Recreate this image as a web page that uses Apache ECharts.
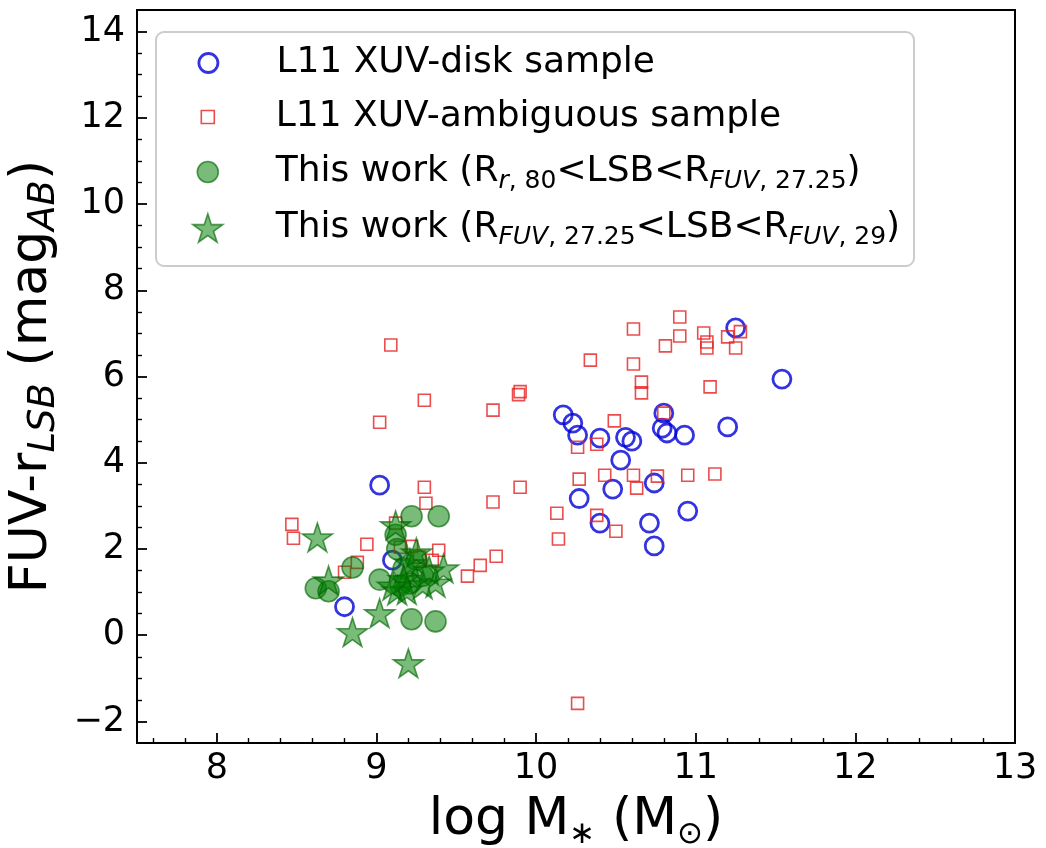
<!DOCTYPE html>
<html><head><meta charset="utf-8">
<script src="https://cdn.jsdelivr.net/npm/echarts@6/dist/echarts.min.js"></script>
<style>html,body{margin:0;padding:0;background:#fff}#c{width:1046px;height:848px}</style>
</head><body><div id="c"></div>
<script>
// ---- data (log M*, FUV - r_LSB) ----
const xuvDisk = [
  [11.25, 7.13], [11.54, 5.94], [10.17, 5.11], [10.23, 4.92], [10.26, 4.64], [10.40, 4.57],
  [10.56, 4.59], [10.60, 4.50], [10.53, 4.06], [10.80, 5.15], [10.79, 4.80], [10.82, 4.69],
  [10.93, 4.64], [11.20, 4.83], [10.48, 3.39], [10.27, 3.17], [10.74, 3.53], [10.95, 2.88],
  [10.40, 2.60], [10.71, 2.60], [10.74, 2.07], [9.02, 3.48], [9.10, 1.74], [8.80, 0.66]
];
const xuvAmbiguous = [
  [9.09, 6.73], [9.02, 4.94], [9.30, 5.45], [9.30, 3.43], [9.31, 3.06], [8.47, 2.57],
  [8.48, 2.25], [8.94, 2.11], [8.88, 1.69], [8.80, 1.46], [9.12, 2.60], [9.15, 2.04],
  [9.22, 2.06], [9.27, 1.81], [9.35, 1.74], [9.39, 1.97], [9.57, 1.37], [9.65, 1.62],
  [9.75, 1.83], [9.73, 5.22], [9.89, 5.58], [9.90, 5.65], [10.34, 6.38], [10.61, 7.10],
  [10.61, 6.29], [10.66, 5.87], [10.66, 5.62], [10.90, 7.38], [10.90, 6.94], [10.81, 6.71],
  [11.05, 7.01], [11.07, 6.80], [11.07, 6.66], [11.20, 6.92], [11.28, 7.04], [11.25, 6.66],
  [11.09, 5.76], [10.80, 5.15], [10.49, 4.97], [10.26, 4.36], [10.38, 4.43], [9.90, 3.43],
  [9.73, 3.09], [10.27, 3.62], [10.43, 3.71], [10.61, 3.71], [10.63, 3.41], [10.76, 3.69],
  [10.95, 3.71], [11.12, 3.74], [10.13, 2.83], [10.38, 2.78], [10.50, 2.41], [10.14, 2.23],
  [10.26, -1.58]
];
const thisWorkInner = [
  [9.22, 2.76], [9.39, 2.76], [8.85, 1.57], [8.62, 1.09], [8.70, 1.02], [9.02, 1.29],
  [9.22, 0.37], [9.37, 0.32], [9.12, 2.33], [9.13, 2.00], [9.17, 1.55], [9.21, 1.20],
  [9.29, 1.38], [9.25, 1.75], [9.15, 1.15]
];
const thisWorkOuter = [
  [8.63, 2.27], [8.70, 1.27], [9.12, 2.55], [9.02, 0.51], [8.85, 0.07], [9.20, -0.65],
  [9.42, 1.55], [9.37, 1.22], [9.13, 1.04], [9.21, 1.67], [9.25, 1.92], [9.17, 1.30],
  [9.29, 1.18], [9.19, 1.05], [9.33, 1.50], [9.10, 1.15]
];
const xTicks = [8, 9, 10, 11, 12, 13];
const yTicks = [-2, 0, 2, 4, 6, 8, 10, 12, 14];
const seriesNames = [
  'L11 XUV-disk sample',
  'L11 XUV-ambiguous sample',
  'This work (Rr,80<LSB<RFUV,27.25)',
  'This work (RFUV,27.25<LSB<RFUV,29)'
];
const legendLabels = [
  'L11 XUV-disk sample',
  'L11 XUV-ambiguous sample',
  'This work (R{si|r}{su|, 80}<LSB<R{si|FUV}{su|, 27.25})',
  'This work (R{si|FUV}{su|, 27.25}<LSB<R{si|FUV}{su|, 29})'
];
const xTitle = 'log M{sub|∗} (M{sub|⊙})';
const yTitle = 'FUV-r{si|LSB} (mag{si|AB})';

// ---- styling / layout ----
const FONT = 'DejaVu Sans';
const STAR = 'path://M0,-100 L22.45,-30.9 L95.11,-30.9 L36.33,11.8 L58.78,80.9 L0,38.2 L-58.78,80.9 L-36.33,11.8 L-95.11,-30.9 L-22.45,-30.9 Z';
const BLUE = '#0000d8', RED = '#e42020';
const GFILL = 'rgba(0,128,0,0.66)';
const GEDGE = 'rgba(0,100,0,0.8)';

const minorX = [];
for (let i = 76; i < 130; i += 2) { if (i % 10 !== 0) minorX.push(i / 10); }
const minorY = [];
for (let i = -3; i <= 28; i++) { if (i % 4 !== 0) minorY.push(i / 2); }

const legendRowCenters = [63, 117, 172, 228];
const legendIconSizes = [19, 13, 21, 30];
const legendIconCenterX = 207, legendTextX = 275;
const legendStyles = [
  {color: 'rgba(0,0,0,0)', borderColor: BLUE, borderWidth: 2.8},
  {color: 'rgba(0,0,0,0)', borderColor: RED, borderWidth: 1.6},
  {color: GFILL, borderColor: GEDGE, borderWidth: 1.6},
  {color: GFILL, borderColor: GEDGE, borderWidth: 1.6}
];
const richLegend = {
  si: {fontFamily: FONT, fontSize: 25, fontStyle: 'italic', lineHeight: 26, verticalAlign: 'bottom', color: '#000'},
  su: {fontFamily: FONT, fontSize: 25, lineHeight: 26, verticalAlign: 'bottom', color: '#000'}
};

const legends = seriesNames.map((nm, i) => {
  const s = legendIconSizes[i];
  return {
    data: [nm],
    orient: 'vertical',
    left: legendIconCenterX - s / 2,
    top: legendRowCenters[i] - 22,
    padding: 0,
    itemWidth: s,
    itemHeight: s,
    selectedMode: false,
    itemStyle: legendStyles[i],
    formatter: () => legendLabels[i],
    textStyle: {fontFamily: FONT, fontSize: 36, color: '#000', lineHeight: 44, rich: richLegend,
      padding: [0, 0, 0, legendTextX - (legendIconCenterX + s / 2 + 5)]}
  };
});

const axisCommon = {
  axisLine: {show: true, onZero: false, lineStyle: {color: '#000', width: 2}},
  splitLine: {show: false}
};

const chart = echarts.init(document.getElementById('c'), null, {renderer: 'canvas'});
chart.setOption({
  animation: false,
  backgroundColor: '#fff',
  grid: {left: 137, right: 31, top: 10, bottom: 105, show: true, borderColor: '#000', borderWidth: 2,
    backgroundColor: 'transparent', containLabel: false, outerBoundsMode: 'none'},
  graphic: [{
    type: 'rect', z: 0,
    shape: {x: 156, y: 32, width: 758, height: 234, r: 8},
    style: {fill: 'rgba(255,255,255,0.8)', stroke: '#cccccc', lineWidth: 2}
  }],
  legend: legends,
  xAxis: [
    Object.assign({}, axisCommon, {
      type: 'value', min: 7.5, max: 13, position: 'bottom',
      name: xTitle, nameLocation: 'middle', nameGap: 41,
      nameTextStyle: {fontFamily: FONT, fontSize: 52, color: '#000', lineHeight: 60,
        rich: {sub: {fontFamily: FONT, fontSize: 31, lineHeight: 31, verticalAlign: 'bottom', color: '#000'}}},
      axisTick: {show: true, inside: true, length: 10, customValues: xTicks, lineStyle: {color: '#000', width: 1.8}},
      axisLabel: {show: true, customValues: xTicks, margin: 8, fontFamily: FONT, fontSize: 35, color: '#000'}
    }),
    {
      type: 'value', min: 7.5, max: 13, position: 'bottom', gridIndex: 0,
      axisLine: {show: false, onZero: false}, splitLine: {show: false}, axisLabel: {show: false},
      axisTick: {show: true, inside: true, length: 5, customValues: minorX, lineStyle: {color: '#000', width: 1.4}}
    }
  ],
  yAxis: [
    Object.assign({}, axisCommon, {
      type: 'value', min: -2.5, max: 14.5, position: 'left',
      name: yTitle, nameLocation: 'middle', nameGap: 66, nameRotate: 90,
      nameTextStyle: {fontFamily: FONT, fontSize: 52, color: '#000', lineHeight: 60,
        padding: [0, 0, 0, 0],
        rich: {si: {fontFamily: FONT, fontSize: 37, fontStyle: 'italic', lineHeight: 36, verticalAlign: 'bottom', color: '#000'}}},
      axisTick: {show: true, inside: true, length: 10, customValues: yTicks, lineStyle: {color: '#000', width: 1.8}},
      axisLabel: {show: true, customValues: yTicks, margin: 12, fontFamily: FONT, fontSize: 35, color: '#000',
        formatter: v => String(v).replace('-', '\u2212')}
    }),
    {
      type: 'value', min: -2.5, max: 14.5, position: 'left', gridIndex: 0,
      axisLine: {show: false, onZero: false}, splitLine: {show: false}, axisLabel: {show: false},
      axisTick: {show: true, inside: true, length: 5, customValues: minorY, lineStyle: {color: '#000', width: 1.4}}
    }
  ],
  series: [
    {
      name: seriesNames[0], type: 'scatter', data: xuvDisk, symbol: 'circle', symbolSize: 18, z: 2,
      itemStyle: {color: 'rgba(0,0,0,0)', borderColor: BLUE, borderWidth: 2.8},
      emphasis: {disabled: true}
    },
    {
      name: seriesNames[1], type: 'scatter', data: xuvAmbiguous, symbol: 'rect', symbolSize: 12, z: 3,
      itemStyle: {color: 'rgba(0,0,0,0)', borderColor: RED, borderWidth: 1.6},
      emphasis: {disabled: true}
    },
    {
      name: seriesNames[2], type: 'scatter', data: thisWorkInner, symbol: 'circle', symbolSize: 21, z: 4,
      itemStyle: {color: GFILL, borderColor: GEDGE, borderWidth: 1.6},
      emphasis: {disabled: true}
    },
    {
      name: seriesNames[3], type: 'scatter', data: thisWorkOuter, symbol: STAR, symbolSize: 30, symbolKeepAspect: true, z: 5,
      itemStyle: {color: GFILL, borderColor: GEDGE, borderWidth: 1.6},
      emphasis: {disabled: true}
    }
  ]
});
</script>
</body></html>
